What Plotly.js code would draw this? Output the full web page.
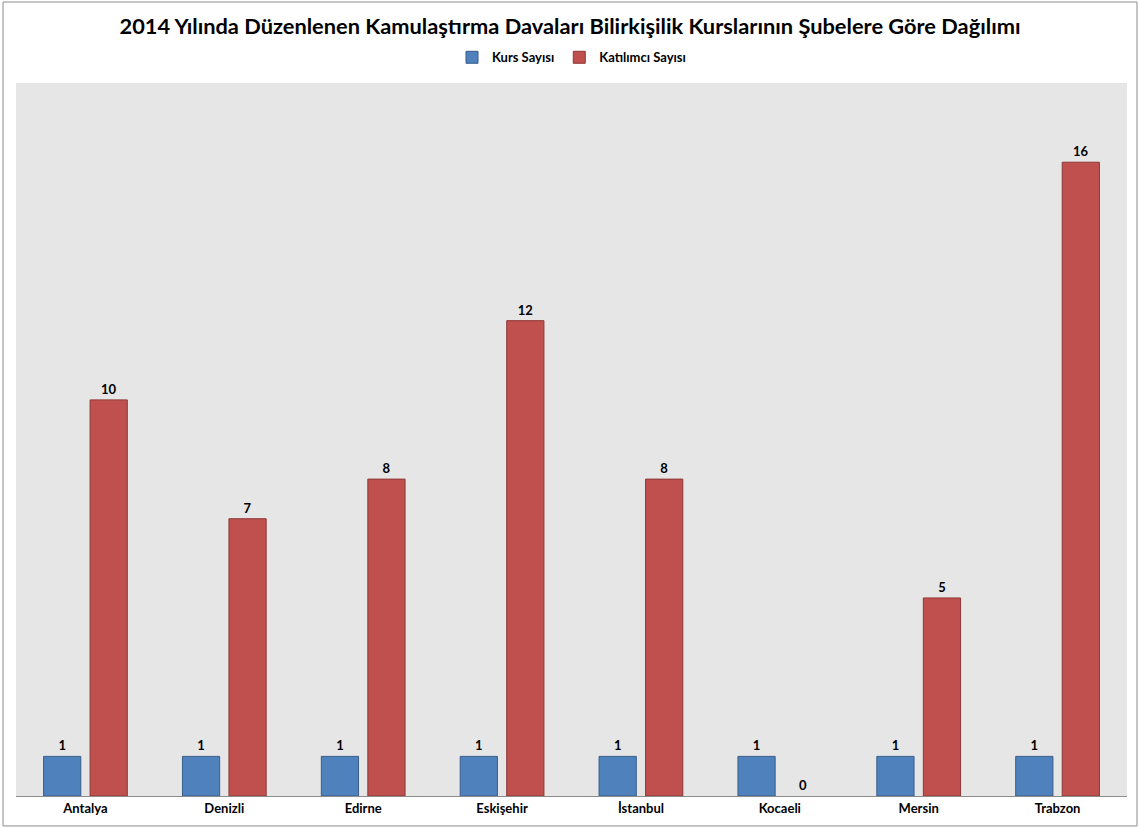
<!DOCTYPE html>
<html>
<head>
<meta charset="utf-8">
<script src="https://cdn.plot.ly/plotly-3.0.1.min.js"></script>
<style>html,body{margin:0;padding:0;background:#fff;}#chart{width:1140px;height:828px;}</style>
</head>
<body>
<div id="chart"></div>
<script>
const categories = ["Antalya", "Denizli", "Edirne", "Eskişehir", "İstanbul", "Kocaeli", "Mersin", "Trabzon"];
const kursSayisi = [1, 1, 1, 1, 1, 1, 1, 1];
const katilimciSayisi = [10, 7, 8, 12, 8, 0, 5, 16];
const seriesNames = ["Kurs Sayısı", "Katılımcı Sayısı"];
const titleText = "2014 Yılında Düzenlenen Kamulaştırma Davaları Bilirkişilik Kurslarının Şubelere Göre Dağılımı";

const FONT = "Lato, 'Open Sans', sans-serif";
const labelFont = {family: FONT, size: 13, color: "#000", weight: 700};
const outline = (vals, w) => vals.map(v => (v === 0 ? 0 : w));

const traces = [
  {
    type: "bar", name: seriesNames[0], x: categories, y: kursSayisi,
    marker: {color: "#4f81bd", line: {color: "#385d8a", width: outline(kursSayisi, 1)}},
    text: kursSayisi.map(String), textposition: "outside", textfont: labelFont,
    cliponaxis: false, hoverinfo: "x+y"
  },
  {
    type: "bar", name: seriesNames[1], x: categories, y: katilimciSayisi,
    marker: {color: "#c0504d", line: {color: "#8c3836", width: outline(katilimciSayisi, 1)}},
    text: katilimciSayisi.map(String), textposition: "outside", textfont: labelFont,
    cliponaxis: false, hoverinfo: "x+y"
  }
];

const layout = {
  width: 1140, height: 828,
  margin: {l: 16, r: 13, t: 83, b: 32, pad: 0},
  paper_bgcolor: "#ffffff",
  plot_bgcolor: "#e6e6e6",
  font: {family: FONT, color: "#000"},
  title: {text: titleText, font: {family: FONT, size: 21.8, color: "#000", weight: 700}, x: 0.5, xanchor: "center", y: 0.968, yanchor: "middle"},
  showlegend: true,
  legend: {orientation: "h", x: 0.5, xanchor: "center", y: 1.036, yanchor: "middle", font: {family: FONT, size: 13, color: "#000", weight: 700}, itemwidth: 30, traceorder: "normal"},
  barmode: "group",
  bargap: 0.33,
  bargroupgap: 0.2,
  xaxis: {
    type: "category", showgrid: false, zeroline: false,
    showline: true, linecolor: "#8c8c8c", linewidth: 1,
    ticks: "", tickfont: {family: FONT, size: 13, color: "#000", weight: 700},
    fixedrange: true
  },
  yaxis: {
    range: [0, 18], showgrid: false, zeroline: false, showline: false,
    showticklabels: false, ticks: "", fixedrange: true
  },
  shapes: [
    {type: "rect", xref: "paper", yref: "paper", x0: -0.0117, x1: 1.009, y0: -0.042, y1: 1.1136,
     line: {color: "#8c8c8c", width: 1}, fillcolor: "rgba(0,0,0,0)", layer: "below"}
  ]
};

Plotly.newPlot("chart", traces, layout, {displayModeBar: false, staticPlot: true});
</script>
</body>
</html>
